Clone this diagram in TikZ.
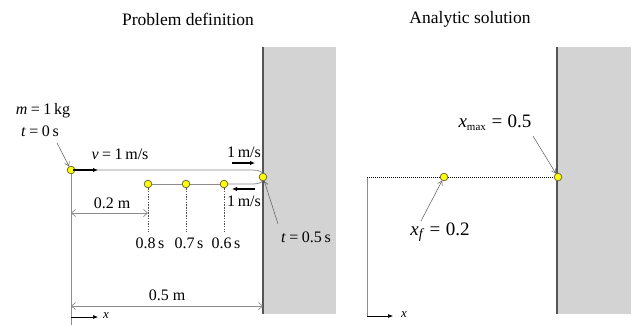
\documentclass[tikz,border=0pt]{standalone}
\usepackage{fontspec}
\setmainfont{Liberation Serif}
\usetikzlibrary{arrows.meta}
\definecolor{wallfill}{HTML}{D3D3D3}
\definecolor{wallline}{HTML}{555555}
\definecolor{pathgray}{HTML}{8C8C8C}
\definecolor{dotfill}{HTML}{FFFF00}
\definecolor{dotline}{HTML}{6E6E40}
\newcommand{\eqsp}{\hspace{0.22em}=\hspace{0.22em}}
\newcommand{\bigeq}{\hspace{0.28em}=\hspace{0.28em}}
\tikzset{
  dot/.style={circle,draw=dotline,fill=dotfill,line width=0.7pt,minimum size=7.5pt,inner sep=0pt},
  lbl/.style={inner sep=0pt,font=\fontsize{16}{18}\selectfont},
  big/.style={inner sep=0pt,font=\fontsize{19}{22}\selectfont},
  ttl/.style={inner sep=0pt,font=\fontsize{17.5}{20}\selectfont},
  track/.style={draw=pathgray,line width=0.8pt},
  dimline/.style={draw=pathgray,line width=0.7pt,{Straight Barb[length=4pt,width=7pt]}-{Straight Barb[length=4pt,width=7pt]}},
  pointer/.style={draw=black!65,line width=0.5pt,-{Straight Barb[length=4pt,width=5pt]}},
  velarrow/.style={draw=black,line width=1.3pt,-{Latex[length=5pt,width=4.5pt]}},
  axisarrow/.style={draw=black,line width=0.6pt,-{Latex[length=5pt,width=4pt]}},
  drop/.style={draw=black!70,line width=0.6pt,dash pattern=on 1.5pt off 1.2pt},
  wall/.style={fill=wallfill,draw=none},
}
\begin{document}
\begin{tikzpicture}[x=1pt,y=-1pt]
\useasboundingbox (0,0) rectangle (639,325);
% walls
\fill[wall] (263,47) rectangle (336,314);
\draw[wallline,line width=1.4pt] (263,47) -- (263,314);
\fill[wall] (557,47) rectangle (631,314);
\draw[wallline,line width=1.4pt] (557,47) -- (557,314);

% titles
\node[ttl] (t1) at (188,19) {Problem definition};
\node[ttl] (t2) at (470,19) {Analytic solution};

% ===== left panel =====
\coordinate (bot) at (71,325);
\coordinate (c1) at (253,170);
\coordinate (c2) at (253,184);
\node[dot] (s) at (71,170) {};
\node[dot] (d8) at (148,184) {};
\node[dot] (d7) at (186,184) {};
\node[dot] (d6) at (224,184) {};
\node[dot] (w) at (263,177) {};
% vertical reference line
\draw[track,line width=0.7pt] (s) -- (bot);
% track
\draw[track] (s) -- (c1) .. controls (259,170) and (262,172) .. (w);
\draw[track] (w) .. controls (262,182) and (259,184) .. (c2) -- (d6);
\draw[track] (d6) -- (d7);
\draw[track] (d7) -- (d8);
% redraw dots on top
\node[dot] at (71,170) {};
\node[dot] at (148,184) {};
\node[dot] at (186,184) {};
\node[dot] at (224,184) {};
\node[dot] at (263,177) {};

% velocity arrows
\coordinate (v0) at (73,170);
\coordinate (v1) at (98,170);
\draw[velarrow] (v0) -- (v1);
\coordinate (ua) at (232,163);
\coordinate (ub) at (255,163);
\draw[velarrow] (ua) -- (ub);
\coordinate (la) at (255,189);
\coordinate (lb) at (232,189);
\draw[velarrow] (la) -- (lb);

% labels
\node[lbl] (mlab) at (43,111) {\textit{m}\eqsp1\,kg};
\node[lbl] (tlab) at (40,131) {\textit{t}\eqsp0\,s};
\node[lbl] (vlab) at (120,154) {\textit{v}\eqsp1\,m/s};
\node[lbl] (u1) at (244,152) {1\,m/s};
\node[lbl] (l1) at (244,201) {1\,m/s};
\coordinate (p0) at (57,143);
\draw[pointer] (p0) -- (s);

% drop lines
\coordinate (e8) at (148,232);
\coordinate (e7) at (186,232);
\coordinate (e6) at (224,232);
\draw[drop] (d8) -- (e8);
\draw[drop] (d7) -- (e7);
\draw[drop] (d6) -- (e6);
\node[lbl] (s8) at (150,243) {0.8\,s};
\node[lbl] (s7) at (189,243) {0.7\,s};
\node[lbl] (s6) at (226,243) {0.6\,s};

% dimensions
\coordinate (a2) at (71,213);
\coordinate (b2) at (148,213);
\draw[dimline] (a2) -- (b2);
\node[lbl] (dim2) at (112,203) {0.2 m};
\coordinate (a5) at (71,306);
\coordinate (b5) at (263,306);
\draw[dimline] (a5) -- (b5);
\node[lbl] (dim5) at (167,295) {0.5 m};

% t = 0.5 s
\node[lbl] (tw) at (306,237) {\textit{t}\eqsp0.5\,s};
\coordinate (p1) at (278,224);
\draw[pointer] (p1) -- (w);

% x axis
\coordinate (xa) at (71,317);
\coordinate (xb) at (98,317);
\draw[axisarrow] (xa) -- (xb);
\node[lbl,font=\fontsize{13}{15}\selectfont] (xl) at (106,316) {\textit{x}};

% ===== right panel =====
\coordinate (r0) at (367,177);
\coordinate (rb) at (367,316);
\node[dot] (xf) at (444,177) {};
\node[dot] (xm) at (558,177) {};
\draw[track,line width=0.7pt] (r0) -- (rb);
\draw[black,line width=0.9pt,dash pattern=on 1pt off 1pt] (r0) -- (xf);
\draw[black,line width=0.9pt,dash pattern=on 1pt off 1pt] (xf) -- (xm);
\node[dot] at (444,177) {};
\node[dot] at (558,177) {};
\coordinate (rxa) at (367,316);
\coordinate (rxb) at (393,316);
\draw[axisarrow] (rxa) -- (rxb);
\node[lbl,font=\fontsize{13}{15}\selectfont] (rxl) at (404,315) {\textit{x}};

\node[big] (xmlab) at (495,123) {\textit{x}\textsubscript{\fontsize{11}{12}\selectfont max}\bigeq0.5};
\coordinate (p2) at (533,136);
\draw[pointer] (p2) -- (xm);
\node[big] (xflab) at (440,232) {\textit{x}\raisebox{-0.35ex}{\fontsize{14}{15}\selectfont\textit{f}}\bigeq0.2};
\coordinate (p3) at (421,221);
\draw[pointer] (p3) -- (xf);
\end{tikzpicture}
\end{document}
